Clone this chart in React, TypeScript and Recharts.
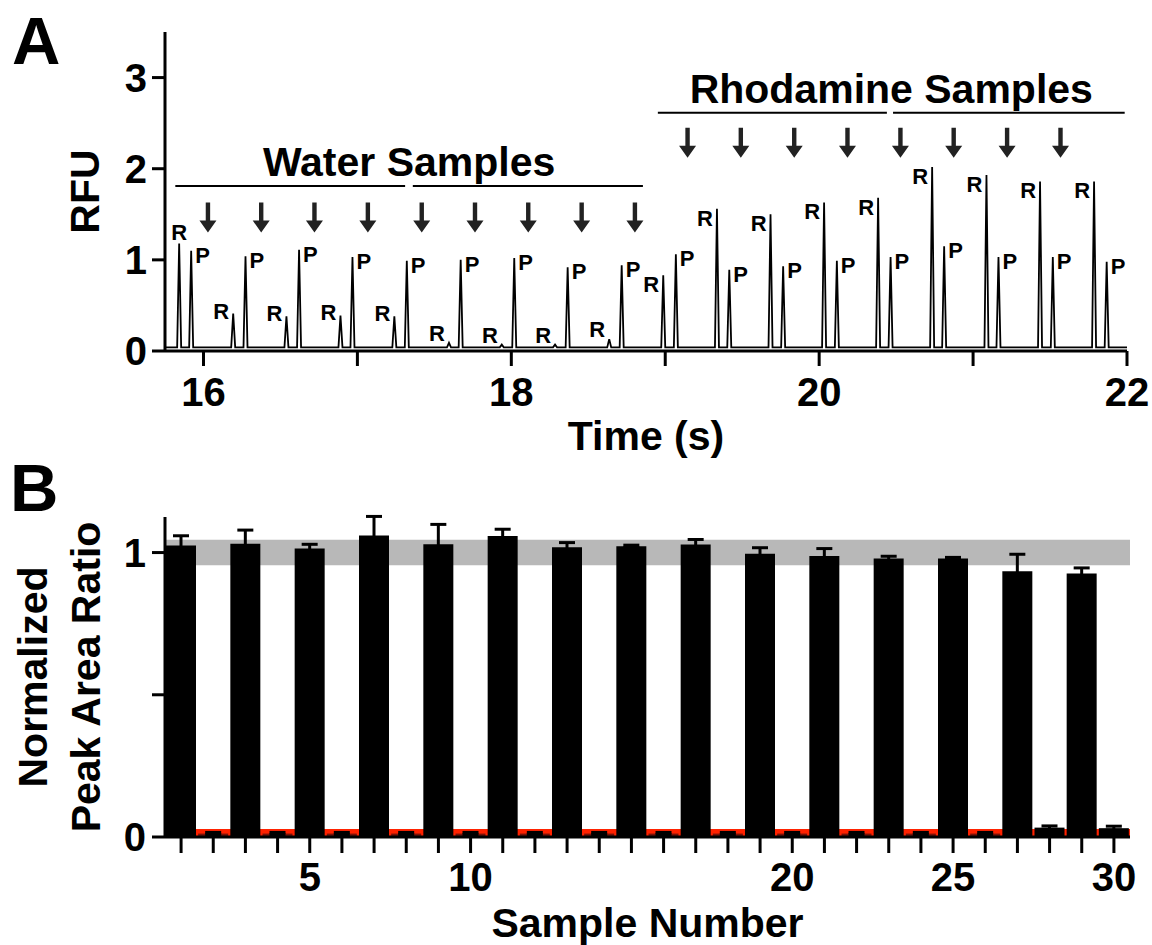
import React from "react"
import {
  Bar,
  Cell,
  ComposedChart,
  ErrorBar,
  Line,
  ReferenceArea,
  ReferenceLine,
  Scatter,
  XAxis,
  YAxis,
} from "recharts"

// Two-panel figure: A = electropherogram trace, B = normalized peak area ratios.
const FONT = '"Liberation Sans", Arial, Helvetica, sans-serif'
const INK = "#000"

// ---- Panel A data (time in s, RFU) ----
const peakTimes = [
  15.842, 15.92, 16.193, 16.273, 16.539, 16.621, 16.89, 16.968, 17.24, 17.321,
  17.595, 17.671, 17.938, 18.019, 18.284, 18.366, 18.636, 18.717,
  18.987, 19.069, 19.336, 19.416, 19.684, 19.766, 20.032, 20.115, 20.383, 20.464,
  20.734, 20.812, 21.087, 21.165, 21.435, 21.518, 21.786, 21.868,
]
const peakHeights = [
  1.18, 1.1, 0.41, 1.04, 0.38, 1.11, 0.39, 1.03, 0.38, 0.99,
  0.09, 1.0, 0.07, 1.02, 0.07, 0.92, 0.13, 0.94,
  0.83, 1.06, 1.56, 0.89, 1.5, 0.93, 1.63, 0.99, 1.68, 1.03,
  2.02, 1.15, 1.93, 1.03, 1.86, 1.03, 1.86, 0.98,
]
const peakNames = [
  "R", "P", "R", "P", "R", "P", "R", "P", "R", "P",
  "R", "P", "R", "P", "R", "P", "R", "P",
  "R", "P", "R", "P", "R", "P", "R", "P", "R", "P",
  "R", "P", "R", "P", "R", "P", "R", "P",
]
const waterArrowTimes = [16.029, 16.375, 16.721, 17.068, 17.418, 17.764, 18.11, 18.457, 18.803]
const rhodamineArrowTimes = [19.145, 19.491, 19.838, 20.184, 20.528, 20.874, 21.221, 21.568]
const waterSpans = [
  [15.817, 17.31],
  [17.36, 18.855],
]
const rhodamineSpans = [
  [18.952, 20.44],
  [20.48, 21.985],
]
const timeTicks = [16, 17, 18, 19, 20, 21, 22]
const timeTickLabels = [16, 18, 20, 22]
const rfuTicks = [0, 1, 2, 3]

// ---- Panel B data ----
const sampleNumbers = [
  1, 2, 3, 4, 5, 6, 7, 8, 9, 10, 11, 12, 13, 14, 15,
  16, 17, 18, 19, 20, 21, 22, 23, 24, 25, 26, 27, 28, 29, 30,
]
const peakAreaRatio = [
  1.025, 0.012, 1.031, 0.012, 1.014, 0.012, 1.06, 0.012, 1.029, 0.012,
  1.058, 0.012, 1.019, 0.012, 1.022, 0.012, 1.028, 0.012, 0.996, 0.012,
  0.988, 0.012, 0.979, 0.012, 0.979, 0.012, 0.934, 0.033, 0.926, 0.031,
]
const ratioError = [
  0.034, 0.004, 0.048, 0.004, 0.015, 0.004, 0.067, 0.004, 0.07, 0.004,
  0.024, 0.004, 0.016, 0.004, 0.004, 0.004, 0.018, 0.004, 0.021, 0.004,
  0.026, 0.004, 0.008, 0.004, 0.004, 0.004, 0.06, 0.006, 0.02, 0.007,
]
const sampleTickLabels = [5, 10, 20, 25, 30]
const ratioTicks = [0, 0.5, 1]

// ---- derived tables ----
const TIME_DOMAIN: [number, number] = [15.75, 22]
const BASELINE = 0.04
const PEAK_HALF_WIDTH = 0.013
const WATER_LINE = 1.81
const RHODAMINE_LINE = 2.615
const WATER_ARROW_TIP = 1.3
const RHODAMINE_ARROW_TIP = 2.12

const trace: { t: number; v: number }[] = [{ t: TIME_DOMAIN[0] + 0.005, v: BASELINE }]
peakTimes.forEach((t, i) => {
  trace.push({ t: t - PEAK_HALF_WIDTH, v: BASELINE })
  trace.push({ t, v: peakHeights[i] })
  trace.push({ t: t + PEAK_HALF_WIDTH, v: BASELINE })
})
trace.push({ t: TIME_DOMAIN[1], v: BASELINE })

const peakPoints = peakTimes.map((t, i) => ({ t, v: peakHeights[i], name: peakNames[i] }))
const arrowPoints = [
  ...waterArrowTimes.map((t) => ({ t, v: WATER_ARROW_TIP })),
  ...rhodamineArrowTimes.map((t) => ({ t, v: RHODAMINE_ARROW_TIP })),
]
const groupTitles = [
  { t: (waterSpans[0][0] + waterSpans[1][1]) / 2, v: WATER_LINE, name: "Water Samples" },
  { t: (rhodamineSpans[0][0] + rhodamineSpans[1][1]) / 2, v: RHODAMINE_LINE, name: "Rhodamine Samples" },
]

const ratioRows = sampleNumbers.map((n, i) => ({
  n,
  ratio: peakAreaRatio[i],
  err: ratioError[i],
}))

const tickStyle = { fill: INK, fontSize: 40, fontWeight: 700, fontFamily: FONT }
const axisStroke = { stroke: INK, strokeWidth: 3 }

function PeakLabel(props: any) {
  const { cx, cy, payload } = props
  const common = { fontFamily: FONT, fontWeight: 700, fontSize: 22, fill: INK }
  if (payload.name === "P") {
    return (
      <text x={cx + 4} y={cy + 12} {...common}>
        P
      </text>
    )
  }
  // first R sits against the axis, so its label goes on top
  if (payload.t - TIME_DOMAIN[0] < 0.15) {
    return (
      <text x={cx} y={cy - 3} textAnchor="middle" {...common}>
        R
      </text>
    )
  }
  const dy = payload.v < 0.2 ? -2 : payload.v < 0.6 ? 5 : 17
  return (
    <text x={cx - 4} y={cy + dy} textAnchor="end" {...common}>
      R
    </text>
  )
}

function DownArrow(props: any) {
  const { cx, cy } = props
  const d = `M${cx - 2.2},${cy - 30} L${cx + 2.2},${cy - 30} L${cx + 2.2},${cy - 12} L${cx + 8.5},${cy - 12} L${cx},${cy} L${cx - 8.5},${cy - 12} L${cx - 2.2},${cy - 12} Z`
  return <path d={d} fill="#222" />
}

function GroupTitle(props: any) {
  const { cx, cy, payload } = props
  return (
    <text x={cx} y={cy - 10} textAnchor="middle" fontFamily={FONT} fontWeight={700} fontSize={41} fill={INK}>
      {payload.name}
    </text>
  )
}

function RotatedTitle({ lines, y }: { lines: { text: string; x: number }[]; y: number }) {
  return (
    <g>
      {lines.map((l) => (
        <text
          key={l.text}
          x={l.x}
          y={y}
          transform={`rotate(-90 ${l.x} ${y})`}
          textAnchor="middle"
          fontFamily={FONT}
          fontWeight={700}
          fontSize={41}
          fill={INK}
        >
          {l.text}
        </text>
      ))}
    </g>
  )
}

function TraceChart() {
  return (
    <ComposedChart width={1152} height={470} margin={{ top: 32, right: 25, bottom: 0, left: 105 }}>
      <XAxis
        dataKey="t"
        type="number"
        domain={TIME_DOMAIN}
        ticks={timeTicks}
        interval={0}
        tick={tickStyle}
        tickSize={15}
        tickMargin={12}
        axisLine={axisStroke}
        tickLine={axisStroke}
        height={119}
        tickFormatter={(v: number) => (timeTickLabels.includes(v) ? String(v) : "")}
        label={{
          value: "Time (s)",
          position: "insideBottom",
          offset: 20,
          style: { fill: INK, fontSize: 41, fontWeight: 700, fontFamily: FONT },
        }}
      />
      <YAxis
        dataKey="v"
        type="number"
        domain={[0, 3.5]}
        ticks={rfuTicks}
        interval={0}
        width={60}
        tick={tickStyle}
        tickSize={13}
        tickMargin={5}
        axisLine={axisStroke}
        tickLine={axisStroke}
        label={<RotatedTitle lines={[{ text: "RFU", x: 99 }]} y={198} />}
      />
      {waterSpans.concat(rhodamineSpans).map(([a, b], i) => {
        const level = i < waterSpans.length ? WATER_LINE : RHODAMINE_LINE
        return (
          <ReferenceLine
            key={`span-${i}`}
            segment={[
              { x: a, y: level },
              { x: b, y: level },
            ]}
            stroke={INK}
            strokeWidth={2}
            ifOverflow="visible"
          />
        )
      })}
      <Line
        data={trace}
        dataKey="v"
        type="linear"
        stroke={INK}
        strokeWidth={1.8}
        dot={false}
        isAnimationActive={false}
      />
      <Scatter data={peakPoints} dataKey="v" shape={PeakLabel} isAnimationActive={false} />
      <Scatter data={arrowPoints} dataKey="v" shape={DownArrow} isAnimationActive={false} />
      <Scatter data={groupTitles} dataKey="v" shape={GroupTitle} isAnimationActive={false} />
    </ComposedChart>
  )
}

function RatioChart() {
  return (
    <ComposedChart
      width={1152}
      height={465}
      data={ratioRows}
      margin={{ top: 37, right: 22, bottom: 0, left: 105 }}
    >
      <XAxis
        dataKey="n"
        type="number"
        domain={[0.5, 30.5]}
        ticks={sampleNumbers}
        interval={0}
        tick={tickStyle}
        tickSize={16}
        tickMargin={10}
        axisLine={axisStroke}
        tickLine={axisStroke}
        height={108}
        tickFormatter={(v: number) => (sampleTickLabels.includes(v) ? String(v) : "")}
        label={{
          value: "Sample Number",
          position: "insideBottom",
          offset: 8,
          style: { fill: INK, fontSize: 41, fontWeight: 700, fontFamily: FONT },
        }}
      />
      <YAxis
        type="number"
        domain={[0, 1.125]}
        ticks={ratioTicks}
        interval={0}
        width={60}
        tick={tickStyle}
        tickSize={13}
        tickMargin={6}
        axisLine={axisStroke}
        tickLine={axisStroke}
        allowDataOverflow
        tickFormatter={(v: number) => (v === 0.5 ? "" : String(v))}
        label={
          <RotatedTitle
            lines={[
              { text: "Normalized", x: 47 },
              { text: "Peak Area Ratio", x: 100 },
            ]}
            y={192}
          />
        }
      />
      <ReferenceArea x1={0.5} x2={30.5} y1={0.955} y2={1.045} fill="#b8b8b8" fillOpacity={1} stroke="none" />
      <ReferenceArea x1={0.5} x2={30.5} y1={0} y2={0.028} fill="#ff2200" fillOpacity={1} stroke="none" />
      <Bar dataKey="ratio" barSize={30} isAnimationActive={false}>
        {ratioRows.map((r) => (
          <Cell key={r.n} fill={r.ratio > 0.02 ? INK : "#7a1208"} />
        ))}
        <ErrorBar dataKey="err" width={8} strokeWidth={3} stroke={INK} />
      </Bar>
    </ComposedChart>
  )
}

export default function App() {
  const letter = {
    position: "absolute" as const,
    fontFamily: FONT,
    fontWeight: 700,
    fontSize: 67,
    lineHeight: 1,
    color: INK,
  }
  return (
    <div style={{ position: "absolute", left: 0, top: 0, width: 1152, height: 945, background: "#fff" }}>
      <div style={{ position: "absolute", left: 0, top: 0 }}>
        <TraceChart />
      </div>
      <div style={{ position: "absolute", left: 0, top: 480 }}>
        <RatioChart />
      </div>
      <div style={{ ...letter, left: 12, top: 7 }}>A</div>
      <div style={{ ...letter, left: 10, top: 454 }}>B</div>
    </div>
  )
}
